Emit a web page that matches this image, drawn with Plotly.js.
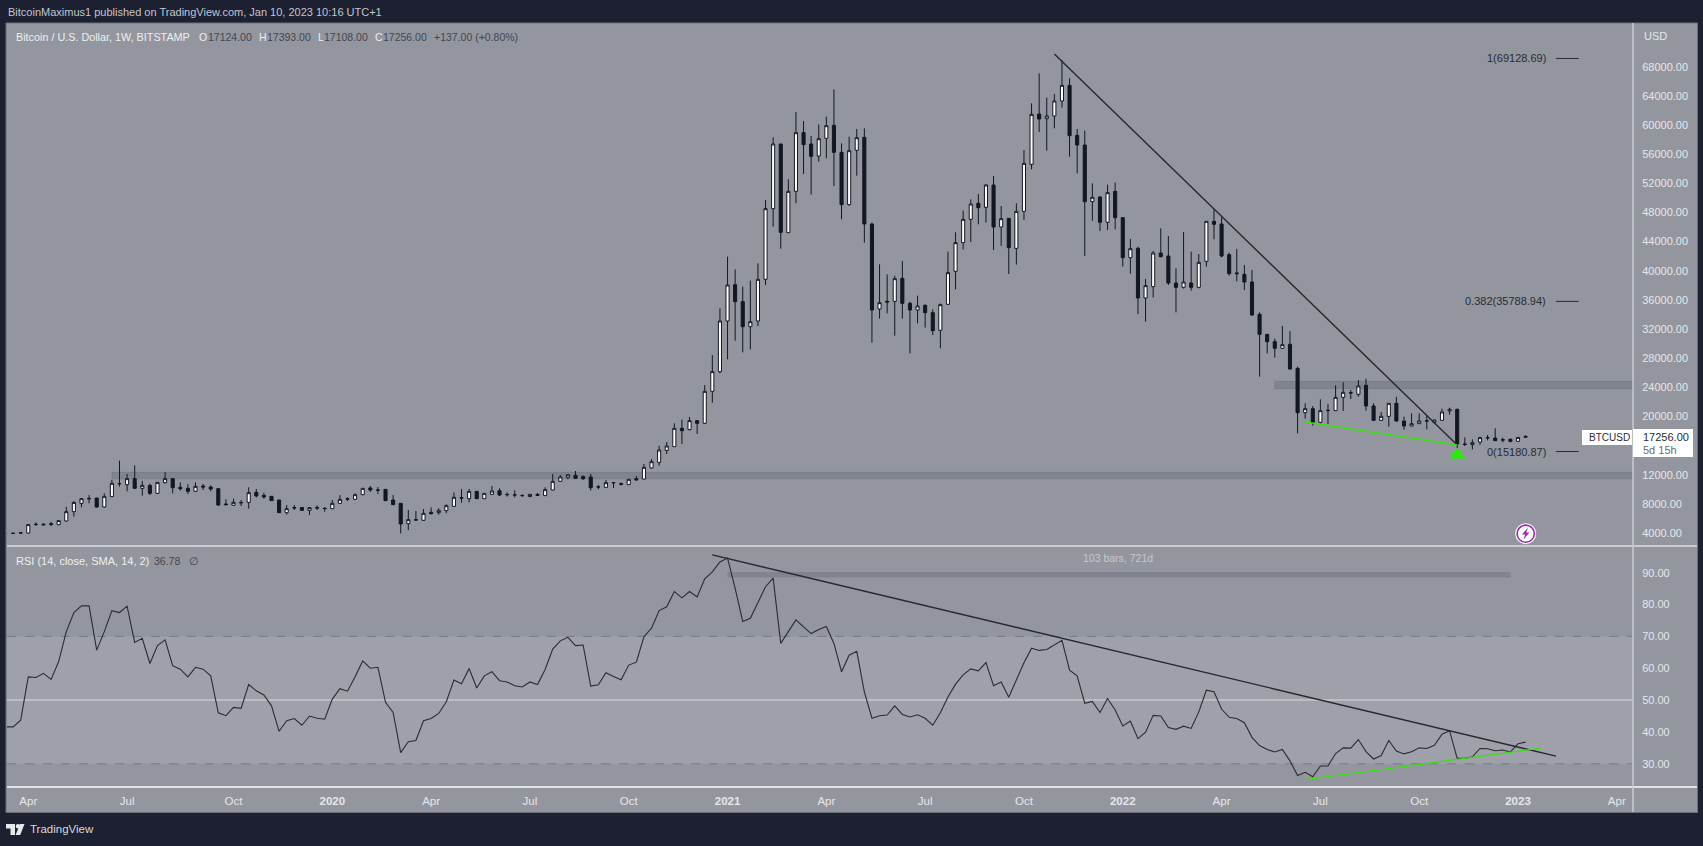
<!DOCTYPE html>
<html><head><meta charset="utf-8">
<script src="https://cdn.plot.ly/plotly-3.0.1.min.js"></script>
<style>html,body{margin:0;padding:0;background:#1c2030;overflow:hidden}</style>
</head><body><div id="chart" style="width:1703px;height:846px"></div>
<script>
const barDates = [
"2019-03-11","2019-03-18","2019-03-25","2019-04-01","2019-04-08","2019-04-15","2019-04-22","2019-04-29","2019-05-06","2019-05-13","2019-05-20","2019-05-27","2019-06-03","2019-06-10","2019-06-17","2019-06-24","2019-07-01","2019-07-08","2019-07-15","2019-07-22","2019-07-29","2019-08-05","2019-08-12","2019-08-19","2019-08-26","2019-09-02","2019-09-09","2019-09-16","2019-09-23","2019-09-30","2019-10-07","2019-10-14","2019-10-21","2019-10-28","2019-11-04","2019-11-11","2019-11-18","2019-11-25","2019-12-02","2019-12-09","2019-12-16","2019-12-23","2019-12-30",
"2020-01-06","2020-01-13","2020-01-20","2020-01-27","2020-02-03","2020-02-10","2020-02-17","2020-02-24","2020-03-02","2020-03-09","2020-03-16","2020-03-23","2020-03-30","2020-04-06","2020-04-13","2020-04-20","2020-04-27","2020-05-04","2020-05-11","2020-05-18","2020-05-25","2020-06-01","2020-06-08","2020-06-15","2020-06-22","2020-06-29","2020-07-06","2020-07-13","2020-07-20","2020-07-27","2020-08-03","2020-08-10","2020-08-17","2020-08-24","2020-08-31","2020-09-07","2020-09-14","2020-09-21","2020-09-28","2020-10-05","2020-10-12","2020-10-19","2020-10-26","2020-11-02","2020-11-09","2020-11-16","2020-11-23","2020-11-30","2020-12-07","2020-12-14","2020-12-21","2020-12-28",
"2021-01-04","2021-01-11","2021-01-18","2021-01-25","2021-02-01","2021-02-08","2021-02-15","2021-02-22","2021-03-01","2021-03-08","2021-03-15","2021-03-22","2021-03-29","2021-04-05","2021-04-12","2021-04-19","2021-04-26","2021-05-03","2021-05-10","2021-05-17","2021-05-24","2021-05-31","2021-06-07","2021-06-14","2021-06-21","2021-06-28","2021-07-05","2021-07-12","2021-07-19","2021-07-26","2021-08-02","2021-08-09","2021-08-16","2021-08-23","2021-08-30","2021-09-06","2021-09-13","2021-09-20","2021-09-27","2021-10-04","2021-10-11","2021-10-18","2021-10-25","2021-11-01","2021-11-08","2021-11-15","2021-11-22","2021-11-29","2021-12-06","2021-12-13","2021-12-20","2021-12-27",
"2022-01-03","2022-01-10","2022-01-17","2022-01-24","2022-01-31","2022-02-07","2022-02-14","2022-02-21","2022-02-28","2022-03-07","2022-03-14","2022-03-21","2022-03-28","2022-04-04","2022-04-11","2022-04-18","2022-04-25","2022-05-02","2022-05-09","2022-05-16","2022-05-23","2022-05-30","2022-06-06","2022-06-13","2022-06-20","2022-06-27","2022-07-04","2022-07-11","2022-07-18","2022-07-25","2022-08-01","2022-08-08","2022-08-15","2022-08-22","2022-08-29","2022-09-05","2022-09-12","2022-09-19","2022-09-26","2022-10-03","2022-10-10","2022-10-17","2022-10-24","2022-10-31","2022-11-07","2022-11-14","2022-11-21","2022-11-28","2022-12-05","2022-12-12","2022-12-19","2022-12-26",
"2023-01-02","2023-01-09"];

const openPrices = [
3880,3970,4030,3990,5170,5220,5260,5140,5650,6930,
8070,8750,8800,7570,8990,10790,10630,11460,10130,10540,
9440,10910,11460,10270,10130,9720,10450,10310,10080,7980,
7800,8190,8200,9580,9170,9030,8530,6790,7500,7500,
7110,7480,7400,7340,8070,8700,8620,9260,10180,9900,
9990,8530,8070,5280,5820,5740,6840,6790,7070,7660,
8850,8710,9720,8710,9310,9810,9300,9230,9150,9000,
9300,9130,9900,11090,11640,11915,11730,11690,10330,10267,
10920,10770,10633,11456,11410,12920,13698,15345,15848,18365,
18182,19417,19051,23443,26142,33096,38084,35750,32319,33096,
38816,48515,57390,45220,50893,58946,57390,55743,58168,59952,
56246,49063,56521,58305,46410,34744,35800,35796,38953,35521,
34607,35247,34240,31816,35384,39914,43848,47050,49246,48698,
51763,45999,47188,43071,48149,54599,61508,60867,61233,63292,
65442,58580,57253,49475,50116,46640,50894,47280,41790,43071,
36254,37810,42430,42018,38313,37718,38313,37718,41286,46777,
46410,42201,39700,39503,38450,34012,31267,30260,29346,29895,
26600,20516,21065,19188,20791,20790,22620,23250,23032,24267,
21431,19463,20012,21797,19372,18686,19006,19400,19189,19463,
20744,20973,16215,16124,16489,17050,17038,16810,16855,16581,
17124];
const highPrices = [
3950,4000,4100,5240,5460,5300,5550,5780,7600,8390,
8800,9210,8800,9440,11270,13930,12100,13290,11140,10770,
10950,12370,11500,10950,10730,10950,10730,10540,10100,8620,
8710,8530,10270,10040,9540,9050,8550,7840,7840,7550,
7520,7800,7520,8530,9210,8900,9440,10150,10450,10310,
10000,9210,8100,7160,7020,7290,7520,7390,7930,9580,
10040,10040,9750,9480,10450,10130,9580,9860,9310,9350,
9490,10270,12100,11960,12020,12510,11915,12100,10600,11273,
10950,10950,11400,11822,13470,14156,15986,16489,19051,19554,
19920,19450,24312,28430,34835,41926,40189,37809,38632,41012,
49704,58305,57420,52540,61782,60547,58488,60089,61141,64893,
57482,58397,59449,59540,46593,40875,39502,39319,41332,35750,
36574,35384,34698,35500,42613,45266,48240,49796,50527,51900,
52998,48880,47200,49246,56566,62972,67089,63749,64253,68919,
66403,59449,59220,51991,50200,51809,52084,47300,44352,43300,
38862,42700,45816,44764,40326,45312,42613,42293,46800,48424,
47325,42476,42979,40784,40097,34288,31300,30672,32411,31725,
26830,21795,21432,22346,21706,24267,24679,23627,24999,25182,
21797,20607,21820,22712,19966,20424,20424,20195,19530,21065,
21202,21065,17130,16855,17222,17450,18365,17084,16993,17130,
17393];
const lowPrices = [
3840,3900,3980,3950,4960,5050,4960,5100,5580,6240,
7520,8070,7500,7500,8950,10360,9720,10130,9120,9210,
9400,10800,9440,9810,9350,9650,9900,9720,7700,7800,
7750,7700,7340,8900,8710,8400,6750,6520,7160,7020,
6470,7160,6930,7300,8000,8390,8580,9200,9630,9350,
8400,7850,3950,4410,5690,5700,6560,6520,6700,7600,
8160,8210,8680,8680,9260,9080,8990,8900,8990,8970,
9080,9100,9860,11000,11370,11460,11270,9810,10000,10220,
10175,10540,10600,11240,11400,12829,13241,14842,15800,16215,
18100,17587,18990,21887,25914,27836,30398,28796,29208,32410,
38038,46044,43025,45200,49246,53272,50436,54965,55423,51625,
47050,48926,53044,43848,30122,33417,34149,31083,33417,28659,
32777,32181,31175,29345,35300,37443,42933,43940,46364,46593,
42841,43391,39547,40828,46959,53913,59037,56475,59540,62377,
55652,53364,42018,46867,45450,45587,45679,40555,39594,34058,
33006,36346,41835,38038,34287,37535,37260,37581,40555,44306,
41835,39320,38542,37352,33830,25457,28660,28064,29300,26440,
17680,19692,18731,19050,18960,20740,20744,22391,22712,20790,
19440,19440,18594,19280,18182,18660,18980,18228,19030,19440,
20241,15620,15940,15483,16078,16718,16627,16444,16444,16550,
17108];
const closePrices = [
3920,3950,4000,5150,5190,5130,5190,5700,6930,8200,
8710,8700,7570,9030,10820,10770,11460,10130,10540,9440,
10950,11460,10220,10080,9720,10400,10310,10040,7840,7890,
8210,8150,9540,9080,8940,8440,6790,7340,7430,7110,
7480,7430,7350,8070,8620,8660,9260,10130,9900,9880,
8440,7890,5240,5830,5790,6700,6650,7110,7750,8900,
8800,9720,8710,9440,9760,9210,9260,9220,9130,9300,
9170,9950,11090,11690,12000,11500,11460,10220,10313,10907,
10900,10700,11365,11273,13012,13790,15391,15940,18365,18044,
19417,19051,23443,26142,33096,38038,35750,32319,33005,38816,
48515,57390,45266,50893,58946,57299,55697,58122,59906,56246,
49063,56475,58260,46410,34607,35613,35700,38907,35521,34607,
35155,34240,31770,35338,39731,43848,47050,49155,48652,51763,
45999,47142,43162,48149,54736,61462,60821,61233,63292,65442,
58534,57253,49475,50070,46640,50711,47280,41790,43025,36254,
37947,42430,41926,38313,37718,38450,37718,41149,46777,46365,
42018,39594,39594,38450,33921,31267,30260,29346,29849,26510,
20516,21065,19188,20791,20837,22620,23306,23215,24175,21431,
19463,20012,21797,19372,18686,19006,19372,19372,19509,20607,
20973,16215,16160,16398,17084,17080,16672,16760,16581,17119,
17256];
const rsiValues = [
41.6,41.6,43.7,57.3,57.1,58.4,56.5,62.1,71.5,77.5,
79.6,79.6,65.7,71.5,78.1,77.5,79.5,68.1,69.4,61.5,
67.1,68.9,60.8,59.7,57.3,60.3,59.7,57.6,46.0,45.1,
47.7,47.4,54.9,52.9,51.6,48.2,40.2,43.5,44.2,42.1,
45.0,44.3,44.0,50.3,53.6,52.8,57.3,62.3,60.0,60.3,
49.3,46.1,33.5,36.9,37.3,43.5,44.2,45.8,49.5,56.3,
55.1,59.9,53.8,57.6,58.9,56.1,55.7,54.5,54.1,55.7,
54.9,59.6,66.0,68.6,69.7,67.1,67.3,54.4,54.8,58.6,
57.4,56.4,61.0,61.9,69.9,72.6,78.1,79.3,84.1,82.1,
84.1,82.4,88.1,90.3,93.4,94.6,85.1,74.7,75.7,80.4,
85.6,88.3,67.8,71.5,75.2,73.0,70.9,72.2,73.1,67.8,
58.9,64.1,65.3,52.6,44.3,45.1,45.3,48.2,45.5,44.7,
45.4,44.3,42.1,46.0,51.0,55.0,57.9,59.8,59.2,61.8,
54.5,55.7,50.9,56.3,61.7,66.3,65.6,65.9,67.4,68.8,
59.4,57.6,49.0,49.6,46.1,50.5,46.9,41.9,43.4,37.9,
39.9,45.2,45.0,41.4,40.8,41.8,41.1,46.3,53.1,52.6,
47.2,44.6,44.2,42.9,38.3,35.7,34.5,33.7,34.5,30.9,
26.3,27.3,25.9,29.3,29.3,33.2,35.0,34.9,37.6,33.8,
31.5,32.6,37.3,34.0,33.1,33.8,35.0,34.8,35.8,39.3,
40.4,31.7,31.7,32.2,34.8,34.7,34.1,34.3,33.7,36.3,
36.8];

const priceTicks = [4000,8000,12000,20000,24000,28000,32000,36000,40000,44000,48000,52000,56000,60000,64000,68000];
const rsiTicks = [30,40,50,60,70,80,90];
const timeTickDates = ["2019-04-01","2019-07-01","2019-10-07","2020-01-06","2020-04-06","2020-07-06","2020-10-05","2021-01-04","2021-04-05","2021-07-05","2021-10-04","2022-01-03","2022-04-04","2022-07-04","2022-10-03","2023-01-02","2023-04-03"];
const timeTickLabels = ["Apr","Jul","Oct","<b>2020</b>","Apr","Jul","Oct","<b>2021</b>","Apr","Jul","Oct","<b>2022</b>","Apr","Jul","Oct","<b>2023</b>","Apr"];
const fibLevels = [69128.69,35788.94,15180.87];
const fibLabels = ["1(69128.69)","0.382(35788.94)","0(15180.87)"];

const FONT='"Liberation Sans", Arial, sans-serif';
const BG='#93969f', DARK='#1c2030', SEP='#c9cbd1', AXT='#e6e7ea', INK='#131722';
const L=7,R=1633,T=23,B=787,W=R-L,H=B-T;
const px=v=>(v-L)/W, py=v=>1-(v-T)/H;

function rectPx(x0,y0,x1,y1,fill,line,layer){return {type:'rect',xref:'paper',yref:'paper',x0:px(x0),x1:px(x1),y0:py(y0),y1:py(y1),fillcolor:fill,line:line||{width:0},layer:layer||'below'};}
function circPx(cx,cy,r,fill,line,layer){return {type:'circle',xref:'paper',yref:'paper',x0:px(cx-r),x1:px(cx+r),y0:py(cy-r),y1:py(cy+r),fillcolor:fill,line:line||{width:0},layer:layer||'above'};}
function polyPx(pts,fill){return {type:'path',xref:'paper',yref:'paper',path:'M'+pts.map(p=>px(p[0])+','+py(p[1])).join('L')+'Z',fillcolor:fill,line:{width:0},layer:'above'};}
function hLine(y0,y1,color,w){return {type:'line',xref:'paper',yref:'paper',x0:px(7),x1:px(1697),y0:py(y0),y1:py(y1),line:{color:color,width:w},layer:'above'};}

const shapes=[
 rectPx(6,23,1697.5,812.5,BG,{color:'#6d707a',width:1}),
 {type:'rect',xref:'paper',yref:'y2',x0:0,x1:1,y0:30,y1:70,fillcolor:'#9ea1aa',line:{width:0},layer:'below'},
 {type:'line',xref:'paper',yref:'y2',x0:0,x1:1,y0:70,y1:70,line:{color:'#787b86',width:1,dash:'dash'},layer:'below'},
 {type:'line',xref:'paper',yref:'y2',x0:0,x1:1,y0:30,y1:30,line:{color:'#787b86',width:1,dash:'dash'},layer:'below'},
 {type:'line',xref:'paper',yref:'y2',x0:0,x1:1,y0:50,y1:50,line:{color:'#c5c7cd',width:1.5},layer:'below'},
 {type:'rect',xref:'x',yref:'y',x0:'2022-05-23',x1:'2023-04-18',y0:23810,y1:24816,fillcolor:'rgba(95,98,108,0.33)',line:{color:'rgba(95,98,108,0.3)',width:1},layer:'below'},
 {type:'rect',xref:'x',yref:'y',x0:'2019-06-17',x1:'2023-04-18',y0:11430,y1:12326,fillcolor:'rgba(95,98,108,0.33)',line:{color:'rgba(95,98,108,0.3)',width:1},layer:'below'},
 {type:'rect',xref:'x',yref:'y2',x0:'2021-01-04',x1:'2022-12-26',y0:88.5,y1:90.2,fillcolor:'rgba(95,98,108,0.33)',line:{width:0},layer:'below'},
 {type:'line',xref:'x',yref:'y',x0:'2021-11-01',x1:'2022-11-07',y0:69743,y1:16078,line:{color:'#26282e',width:1.4},layer:'above'},
 {type:'line',xref:'x',yref:'y',x0:'2022-06-20',x1:'2022-11-07',y0:19234,y1:16078,line:{color:'#39e010',width:1.3},layer:'above'},
 {type:'line',xref:'x',yref:'y2',x0:'2020-12-21',x1:'2023-02-06',y0:95.6,y1:32.4,line:{color:'#26282e',width:1.4},layer:'above'},
 {type:'line',xref:'x',yref:'y2',x0:'2022-06-20',x1:'2023-01-23',y0:25,y1:34.9,line:{color:'#39e010',width:1.3},layer:'above'},
 {type:'line',xref:'x',yref:'y',x0:'2023-02-06',x1:'2023-02-27',y0:fibLevels[0],y1:fibLevels[0],line:{color:'#2a2c33',width:1},layer:'above'},
 {type:'line',xref:'x',yref:'y',x0:'2023-02-06',x1:'2023-02-27',y0:fibLevels[1],y1:fibLevels[1],line:{color:'#2a2c33',width:1},layer:'above'},
 {type:'line',xref:'x',yref:'y',x0:'2023-02-06',x1:'2023-02-27',y0:fibLevels[2],y1:fibLevels[2],line:{color:'#2a2c33',width:1},layer:'above'},
 hLine(546,546,SEP,2),
 hLine(787,787,'#e2e3e7',2),
 {type:'line',xref:'paper',yref:'paper',x0:1,x1:1,y0:py(23),y1:py(812),line:{color:SEP,width:1.5},layer:'above'},
 rectPx(1582,430,1632,445,'#ffffff',null,'above'),
 rectPx(1633,429,1693,457,'#ffffff',null,'above'),
 circPx(1525.7,533.7,10.5,'#ffffff'),
 circPx(1525.7,533.7,8.6,'#ffffff',{color:'#9c27b0',width:1.6}),
 polyPx([[1528,527.5],[1522,534.5],[1525.2,534.5],[1523.4,539.8],[1529.4,532.6],[1526.2,532.6]],'#9c27b0'),
 polyPx([[6,824],[15,824],[15,835],[10.5,835],[10.5,828.5],[6,828.5]],'#e8e9ec'),
 circPx(18,826.2,2.2,'#e8e9ec'),
 polyPx([[20,824],[24.5,824],[20.2,835],[15.6,835]],'#e8e9ec')
];

function note(text,x,y,size,color,anchor){return {text:text,xref:'paper',yref:'paper',x:px(x),y:py(y),xanchor:anchor||'left',yanchor:'middle',showarrow:false,font:{family:FONT,size:size,color:color},align:anchor||'left'};}
const VAL='#44474f', LAB='#eeeff1';
const annotations=[
 note('BitcoinMaximus1 published on TradingView.com, Jan 10, 2023 10:16 UTC+1',6,12,11,'#c3c6cf'),
 note('Bitcoin / U.S. Dollar, 1W, BITSTAMP',14,37,10.8,LAB),
 note('O',197,37,10.5,LAB), note('17124.00',206,37,10.5,VAL),
 note('H',256.5,37,10.5,LAB), note('17393.00',265,37,10.5,VAL),
 note('L',316,37,10.5,LAB), note('17108.00',322,37,10.5,VAL),
 note('C',373,37,10.5,LAB), note('17256.00',381,37,10.5,VAL),
 note('+137.00 (+0.80%)',431.5,37,10.5,VAL),
 note('USD',1642,36,11,AXT),
 note('RSI (14, close, SMA, 14, 2)',14,560.7,11,LAB),
 note('36.78',152,560.7,10.5,VAL),
 note('∅',187,560.7,10.5,VAL),
 note('TradingView',28,829,11.5,'#d7d9df'),
 {text:'103 bars, 721d',xref:'x',yref:'y2',x:'2021-12-30',y:94.7,xanchor:'center',yanchor:'middle',showarrow:false,font:{family:FONT,size:10.5,color:'#c6c8ce'}},
 note('BTCUSD',1587,437.3,10,'#2a2e39'),
 note('17256.00',1641,437,11,'#2a2e39'),
 note('5d 15h',1641,450,11,'#6a6d78')
];
fibLabels.forEach((t,i)=>annotations.push({text:t,xref:'x',yref:'y',x:'2023-01-30',y:fibLevels[i],xanchor:'right',yanchor:'middle',showarrow:false,font:{family:FONT,size:11,color:'#2a2c33'}}));

const candleTrace={type:'candlestick',x:barDates,open:openPrices,high:highPrices,low:lowPrices,close:closePrices,xaxis:'x',yaxis:'y',
 increasing:{line:{color:INK,width:1},fillcolor:'#ffffff'},decreasing:{line:{color:INK,width:1},fillcolor:INK},whiskerwidth:0,hoverinfo:'skip',showlegend:false};
const rsiTrace={type:'scatter',mode:'lines',x:barDates,y:rsiValues,xaxis:'x',yaxis:'y2',line:{color:'#2a2c33',width:1.1},hoverinfo:'skip',showlegend:false};
const markerTrace={type:'scatter',mode:'markers',x:['2022-11-07'],y:[14720],xaxis:'x',yaxis:'y',marker:{symbol:'triangle-up',size:14,color:'#22f000'},hoverinfo:'skip',showlegend:false};

const tickFont={family:FONT,size:11,color:AXT};
const layout={
 width:1703,height:846,paper_bgcolor:DARK,plot_bgcolor:BG,showlegend:false,boxgap:0.42,
 margin:{l:L,r:1703-R,t:T,b:846-B,pad:0},
 font:{family:FONT},
 xaxis:{type:'date',domain:[0,1],anchor:'y2',range:['2019-03-12 09:36','2023-04-17 22:00'],rangeslider:{visible:false},
   tickmode:'array',tickvals:timeTickDates,ticktext:timeTickLabels,tickfont:{family:FONT,size:11.5,color:AXT},
   showgrid:false,zeroline:false,showline:false,ticks:'outside',ticklen:3,tickcolor:'rgba(0,0,0,0)'},
 yaxis:{domain:[(B-546)/H,1],anchor:'x',side:'right',range:[2216,73997],tickmode:'array',tickvals:priceTicks,tickformat:'.2f',separatethousands:false,
   tickfont:tickFont,showgrid:false,zeroline:false,showline:false,ticks:'outside',ticklen:6,tickcolor:'rgba(0,0,0,0)'},
 yaxis2:{domain:[0,(B-546)/H],anchor:'x',side:'right',range:[22.7,98.4],tickmode:'array',tickvals:rsiTicks,tickformat:'.2f',
   tickfont:tickFont,showgrid:false,zeroline:false,showline:false,ticks:'outside',ticklen:6,tickcolor:'rgba(0,0,0,0)'},
 shapes:shapes,annotations:annotations
};
Plotly.newPlot('chart',[candleTrace,rsiTrace,markerTrace],layout,{staticPlot:true,displayModeBar:false});
</script></body></html>
